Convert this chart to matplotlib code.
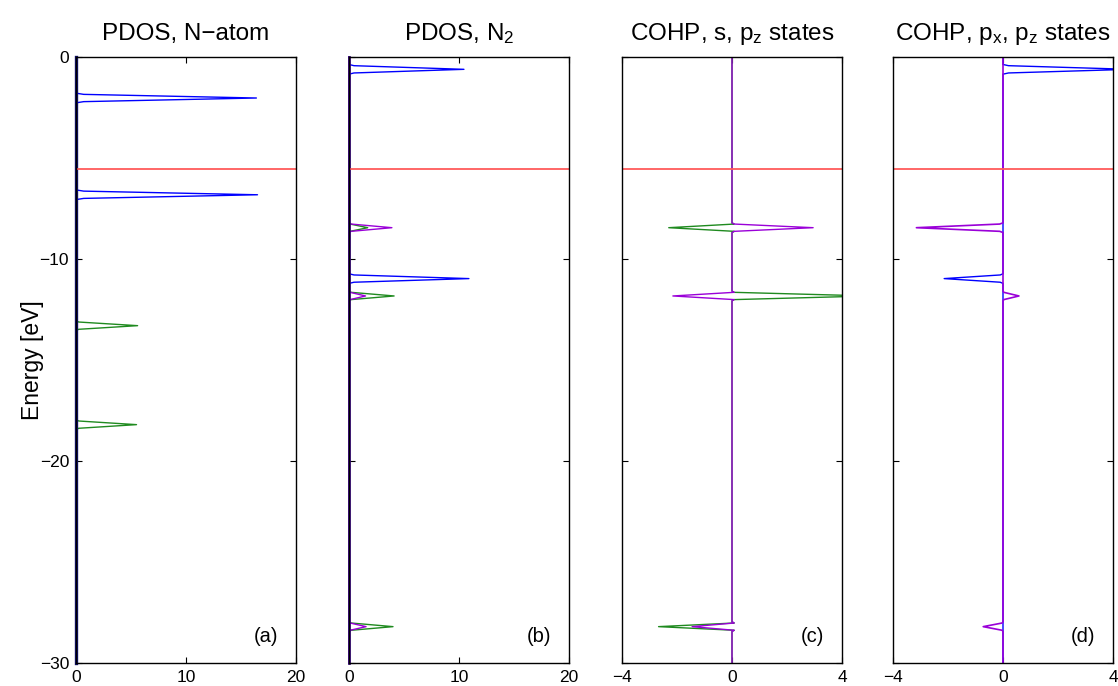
import matplotlib
matplotlib.use("Agg")
import matplotlib.pyplot as plt

plt.rcParams["font.family"] = ["Liberation Sans", "DejaVu Sans"]
plt.rcParams["mathtext.default"] = "regular"

BLUE = "#0000ff"
GREEN = "#1f8a1f"
PURPLE = "#9a00d8"
RED = "#ff5a5a"

fermi = -5.55

# panel (a): PDOS of the N atom
a_blue_E = [0, -1.79, -1.85, -2.03, -2.21, -2.27, -6.58, -6.64, -6.82, -7.00, -7.06, -30]
a_blue_D = [0, 0, 0.7, 16.4, 0.7, 0, 0, 0.7, 16.5, 0.7, 0, 0]
a_green_E = [0, -13.06, -13.12, -13.30, -13.48, -13.54, -17.96, -18.02, -18.20, -18.38, -18.44, -30]
a_green_D = [0, 0, 0.25, 5.6, 0.25, 0, 0, 0.25, 5.5, 0.25, 0, 0]

# panel (b): PDOS of N2
b_blue_E = [0, -0.37, -0.43, -0.61, -0.79, -0.85, -10.73, -10.79, -10.97, -11.15, -11.21, -30]
b_blue_D = [0, 0, 0.45, 10.45, 0.45, 0, 0, 0.45, 10.9, 0.45, 0, 0]
b_green_E = [0, -8.21, -8.27, -8.45, -8.63, -8.69, -11.59, -11.65, -11.83, -12.01, -12.07,
             -27.96, -28.02, -28.20, -28.38, -28.44, -30]
b_green_D = [0, 0, 0.1, 1.7, 0.1, 0, 0, 0.2, 4.1, 0.2, 0, 0, 0.2, 4.0, 0.2, 0, 0]
b_purple_E = b_green_E
b_purple_D = [0, 0, 0.2, 3.9, 0.2, 0, 0, 0.1, 1.5, 0.1, 0, 0, 0.1, 1.55, 0.1, 0, 0]

# panel (c): COHP, s and pz
c_E = [0, -8.21, -8.27, -8.45, -8.63, -8.69, -11.59, -11.65, -11.83, -12.01, -12.07,
       -27.96, -28.02, -28.20, -28.38, -28.44, -30]
c_green = [0, 0, 0.08, -2.3, 0.08, 0, 0, 0.08, 5.0, 0.08, 0, 0, 0.08, -2.67, 0.08, 0, 0]
c_purple = [0, 0, 0.08, 2.95, 0.08, 0, 0, 0.08, -2.15, 0.08, 0, 0, 0.08, -1.45, 0.08, 0, 0]

# panel (d): COHP, px and pz
d_blue_E = [0, -0.37, -0.43, -0.61, -0.79, -0.85, -10.73, -10.79, -10.97, -11.15, -11.21, -30]
d_blue = [0, 0, 0.2, 4.6, 0.2, 0, 0, -0.1, -2.14, -0.1, 0, 0]
d_purple_E = c_E
d_purple = [0, 0, -0.12, -3.15, -0.12, 0, 0, 0.03, 0.58, 0.03, 0, 0, -0.03, -0.72, -0.03, 0, 0]

fig = plt.figure(figsize=(11.18, 6.86), dpi=100)
lefts = [76, 349, 622, 893]
axes = [fig.add_axes([l / 1118, 1 - 663 / 686, 220 / 1118, 606 / 686]) for l in lefts]

titles = ["PDOS, N\u2212atom", "PDOS, N$_2$", "COHP, s, p$_z$ states", "COHP, p$_x$, p$_z$ states"]
tags = ["(a)", "(b)", "(c)", "(d)"]

ax = axes[0]
ax.plot(a_blue_D, a_blue_E, color=BLUE, lw=1, clip_on=False)
ax.plot(a_green_D, a_green_E, color=GREEN, lw=1, clip_on=False)
ax.plot([0, 0], [0, -30], color="#10106a", lw=2.4, clip_on=False)
ax.set_xlim(0, 20)
ax.set_xticks([0, 10, 20])

ax = axes[1]
ax.plot(b_blue_D, b_blue_E, color=BLUE, lw=1, clip_on=False)
ax.plot(b_green_D, b_green_E, color=GREEN, lw=1, clip_on=False)
ax.plot(b_purple_D, b_purple_E, color=PURPLE, lw=1, clip_on=False)
ax.plot([0, 0], [0, -30], color="#3a0a80", lw=2.0, clip_on=False)
ax.set_xlim(0, 20)
ax.set_xticks([0, 10, 20])

ax = axes[2]
ax.plot(c_green, c_E, color=GREEN, lw=1)
ax.plot(c_purple, c_E, color=PURPLE, lw=1)
ax.set_xlim(-4, 4)
ax.set_xticks([-4, 0, 4])

ax = axes[3]
ax.plot(d_blue, d_blue_E, color=BLUE, lw=1)
ax.plot(d_purple, d_purple_E, color=PURPLE, lw=1.2)
ax.set_xlim(-4, 4)
ax.set_xticks([-4, 0, 4])

for i, ax in enumerate(axes):
    ax.axhline(fermi, color=RED, lw=1.3)
    ax.set_ylim(-30, 0)
    ax.set_yticks([0, -10, -20, -30])
    ax.tick_params(direction="in", top=True, right=True, length=4, labelsize=12.5, pad=5)
    if i > 0:
        ax.set_yticklabels([])
    for s in ax.spines.values():
        s.set_linewidth(1)
    ax.set_title(titles[i], fontsize=17.5, pad=12)
    ax.text(0.865, 0.043, tags[i], transform=ax.transAxes, ha="center", va="center", fontsize=14.5)

axes[0].set_ylabel("Energy [eV]", fontsize=16.5, labelpad=-3)

fig.savefig("out.png", dpi=100)
